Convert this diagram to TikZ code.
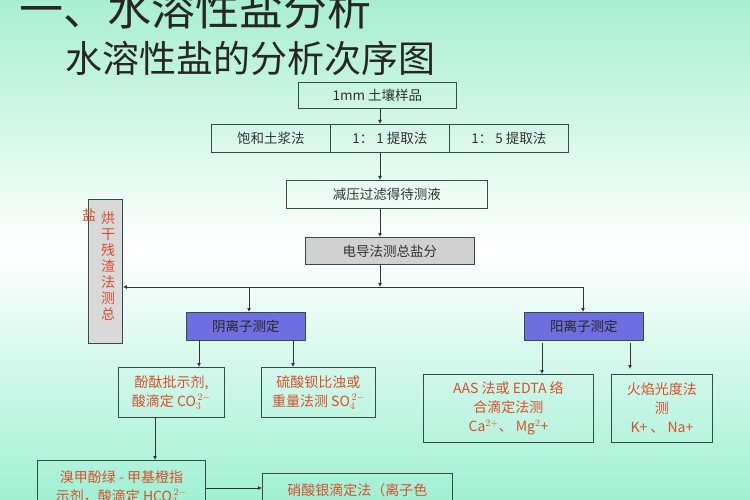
\documentclass[tikz,border=0pt]{standalone}
\usepackage{fontspec}
\setmainfont{Noto Sans CJK SC}
\usetikzlibrary{arrows.meta}
\definecolor{bx}{HTML}{2F4F47}
\definecolor{rd}{HTML}{D8502A}
\definecolor{bl}{HTML}{6E6EE0}
\definecolor{gtop}{HTML}{A8EFCF}
\definecolor{gbot}{HTML}{A0F0D4}
\tikzset{
  box/.style={draw=bx,line width=0.9pt,inner sep=0pt,anchor=north west},
  lbl/.style={font=\fontsize{13.5}{16}\selectfont,text=black!80},
  rlbl/.style={font=\fontsize{14}{19}\selectfont,text=rd,align=center},
  arr/.style={-{Latex[length=4pt,width=4pt]},line width=0.8pt,draw=black!80}
}
\newcommand{\bx}[6]{\node[box,minimum width=#3 pt,minimum height=#4 pt,#5] (#1) at (#2) {#6};}
\newcommand{\ion}[2]{\ensuremath{_{#1}^{\,#2}}}
\begin{document}
\begin{tikzpicture}[x=1pt,y=-1pt]
\useasboundingbox (0,0) rectangle (750,500);
\clip (0,0) rectangle (750,500);
\shade[top color=gtop,bottom color=gbot,middle color=white] (0,0) rectangle (750,500);
\node[anchor=base west,font=\fontsize{44}{44}\selectfont,text=black!85] (t1) at (16,26) {一、水溶性盐分析};
\node[anchor=base west,font=\fontsize{37}{37}\selectfont,text=black!85] (t2) at (62,73) {水溶性盐的分析次序图};
\bx{s}{298,82}{158}{26}{lbl}{1mm 土壤样品}
\bx{m1}{211,124}{119}{28}{lbl}{饱和土浆法}
\bx{m2}{330,124}{119}{28}{lbl}{1：\ 1 提取法}
\bx{m3}{449,124}{119}{28}{lbl}{1：\ 5 提取法}
\bx{f}{286,180}{201}{28}{lbl}{减压过滤得待测液}
\bx{e}{305,237}{169}{27}{lbl,fill=black!18}{电导法测总盐分}
\bx{L}{88,199}{34}{144}{fill=black!15}{}
\node[rlbl,font=\fontsize{14}{16}\selectfont,align=center] (Lt) at (108,266) {烘\\干\\残\\渣\\法\\测\\总};
\node[rlbl] (Ly) at (89,215) {盐};
\bx{an}{186,312}{119}{28}{lbl,fill=bl,text=black!85}{阴离子测定}
\bx{ca}{524,312}{119}{28}{lbl,fill=bl,text=black!85}{阳离子测定}
\bx{p}{118,367}{106}{50}{rlbl}{酚酞批示剂,\\酸滴定 CO\ion{3}{2-}}
\bx{b}{261,367}{114}{50}{rlbl}{硫酸钡比浊或\\重量法测 SO\ion{4}{2-}}
\bx{aas}{423,374}{170}{68}{rlbl}{AAS 法或 EDTA 络\\合滴定法测\\Ca$^{2+}$、 Mg$^{2}$+}
\bx{fl}{611,374}{101}{68}{rlbl}{火焰光度法\\测\\K+ 、 Na+}
\node[box,minimum width=168pt,minimum height=70pt,rlbl,anchor=north west,align=center] (br) at (37,460) {溴甲酚绿 - 甲基橙指\\示剂，酸滴定 HCO\ion{3}{2-}\\ \phantom{x}};
\node[box,minimum width=190pt,minimum height=70pt,rlbl,anchor=north west,align=center] (ag) at (262,473) {硝酸银滴定法（离子色\\谱法）测 Cl$^-$\\ \phantom{x}};
\coordinate (x0) at (380,0);
\draw[arr] (x0 |- s.south) -- (x0 |- m2.north);
\draw[arr] (x0 |- m2.south) -- (x0 |- f.north);
\draw[arr] (x0 |- f.south) -- (x0 |- e.north);
\coordinate (jc) at (380,287);
\coordinate (jl) at (L.east |- 0,287);
\coordinate (jr) at (583,287);
\draw[arr] (x0 |- e.south) -- (jc);
\draw[line width=0.8pt,draw=black!80] (jc) -- (jr);
\draw[arr] (jc) -- (jl);
\draw[arr] (249,287) -- (249,312);
\draw[arr] (jr) -- (583,312);
\draw[arr] (199,340) -- (199,367);
\draw[arr] (293,340) -- (293,367);
\draw[arr] (542,343) -- (542,374);
\draw[arr] (630,343) -- (630,369);
\draw[arr] (155,417) -- (155,460);
\draw[arr] (205,488) -- (262,488);
\end{tikzpicture}
\end{document}
